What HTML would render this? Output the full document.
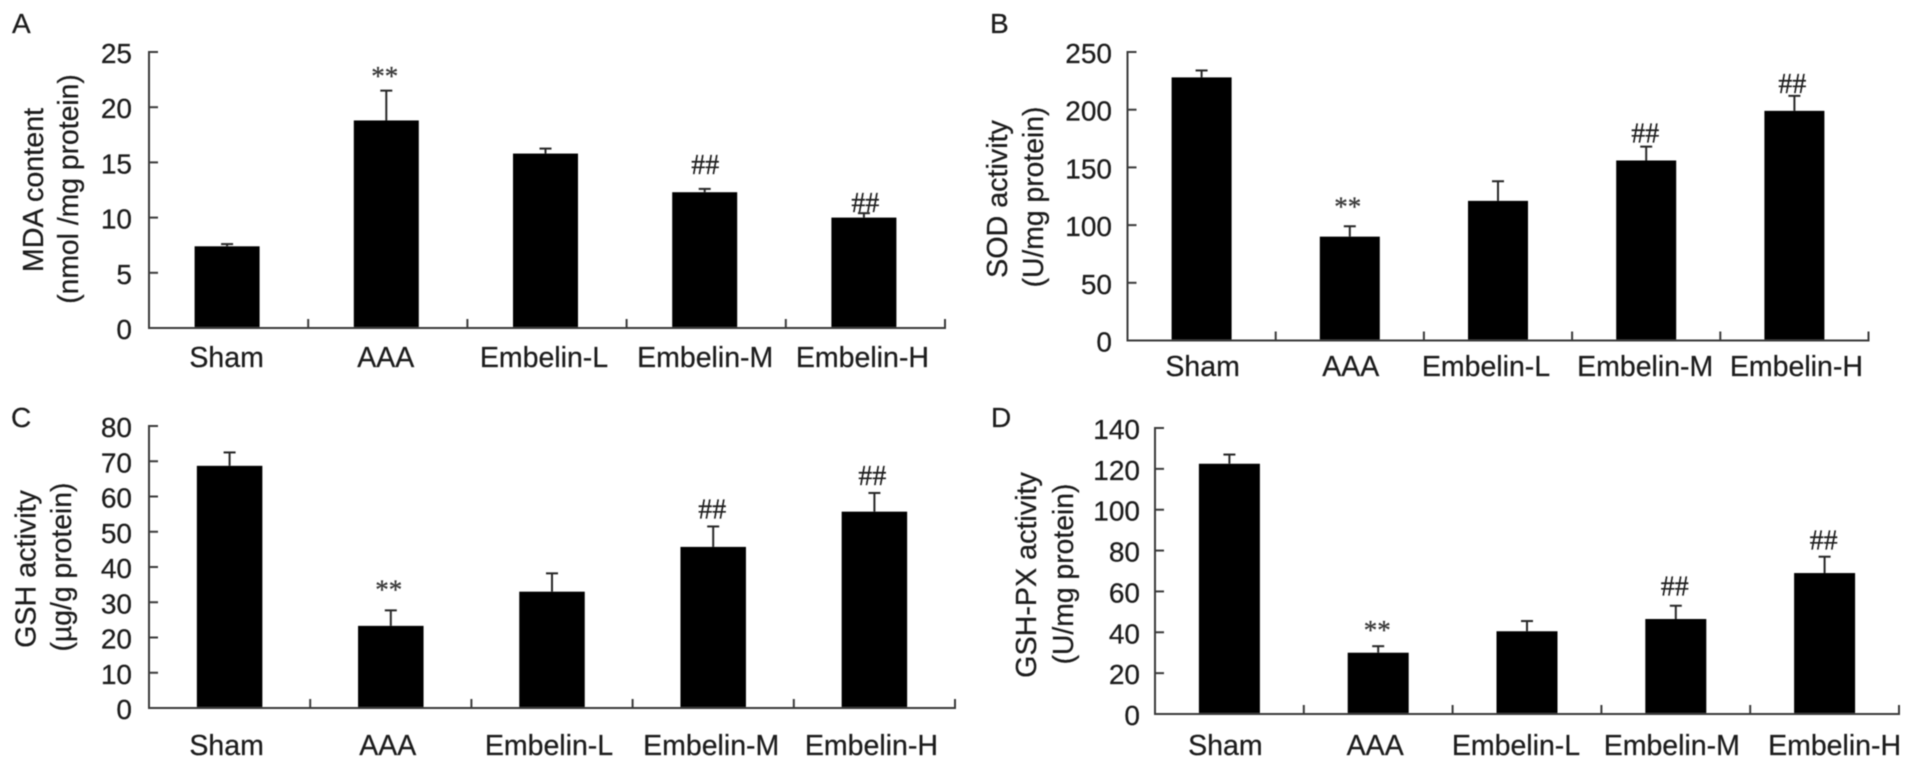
<!DOCTYPE html>
<html lang="en">
<head>
<meta charset="utf-8">
<title>Embelin oxidative stress bar charts</title>
<style>
  html, body { margin: 0; padding: 0; background: #fff; }
  #figure { display: block; width: 1913px; height: 768px; }
  text { font-family: "Liberation Sans", sans-serif; fill: #1c1c1c; stroke: #1c1c1c; stroke-width: 0.25px; }
  .mark { font-family: "Liberation Serif", serif; }
</style>
</head>
<body>
<svg id="figure" xmlns="http://www.w3.org/2000/svg" width="1913" height="768" viewBox="0 0 1913 768">
  <defs><filter id="soft" x="-2%" y="-2%" width="104%" height="104%"><feGaussianBlur stdDeviation="0.6"/></filter></defs>
  <g id="root" filter="url(#soft)"></g>
</svg>
<script>
const categories = ['Sham', 'AAA', 'Embelin-L', 'Embelin-M', 'Embelin-H'];
const significance = ['', '**', '', '##', '##'];

const mdaValues = [7.4, 18.8, 15.8, 12.3, 10.0];
const mdaErrors = [0.2, 2.7, 0.45, 0.3, 0.4];
const mdaTicks = [0, 5, 10, 15, 20, 25];

const sodValues = [228, 90, 121, 156, 199];
const sodErrors = [6, 9, 17, 12, 13];
const sodTicks = [0, 50, 100, 150, 200, 250];

const gshValues = [68.7, 23.3, 33.0, 45.7, 55.7];
const gshErrors = [3.8, 4.4, 5.2, 5.8, 5.3];
const gshTicks = [0, 10, 20, 30, 40, 50, 60, 70, 80];

const gpxValues = [122.5, 30, 40.5, 46.5, 69];
const gpxErrors = [4.5, 3.2, 5, 6.5, 8];
const gpxTicks = [0, 20, 40, 60, 80, 100, 120, 140];

const panels = [
  { id: 'a', letter: 'A', lx: 12, ly: 33, values: mdaValues, errors: mdaErrors, ticks: mdaTicks,
    left: 149, right: 945, top: 52, base: 328, barW: 65, barShift: -1.5, tickX: 132,
    title: 'MDA content', sub: '(nmol /mg protein)', t1x: 43, t1y: 190, t2x: 78, t2y: 189,
    labelY: 367, labelShift: [-2, -2, -3, -1, -3], markGap: [0, 18.5, 0, 24, 10], markShift: [0, -3, 0, -1, 0] },
  { id: 'b', letter: 'B', lx: 990, ly: 33, values: sodValues, errors: sodErrors, ticks: sodTicks,
    left: 1127.5, right: 1868.5, top: 52, base: 340.5, barW: 60, barShift: 0, tickX: 1112,
    title: 'SOD activity', sub: '(U/mg protein)', t1x: 1007, t1y: 199, t2x: 1043, t2y: 197,
    labelY: 376, labelShift: [1, 1, -12, -1, 2], markGap: [0, 24, 0, 13, 12], markShift: [0, -2, 0, -1, -2] },
  { id: 'c', letter: 'C', lx: 11, ly: 427, values: gshValues, errors: gshErrors, ticks: gshTicks,
    left: 149, right: 955, top: 426, base: 708, barW: 65.5, barShift: 0, tickX: 132,
    title: 'GSH activity', sub: '(\u00B5g/g protein)', t1x: 35.5, t1y: 569, t2x: 71, t2y: 567,
    labelY: 755, labelShift: [-3, -3, -3, -2, -3], markGap: [0, 25, 0, 17, 17], markShift: [0, -2, 0, -1, -2] },
  { id: 'd', letter: 'D', lx: 991, ly: 427, values: gpxValues, errors: gpxErrors, ticks: gpxTicks,
    left: 1155, right: 1899, top: 428, base: 714, barW: 61, barShift: 0, tickX: 1140,
    title: 'GSH-PX activity', sub: '(U/mg protein)', t1x: 1036, t1y: 575, t2x: 1073, t2y: 574,
    labelY: 755, labelShift: [-4, -3, -11, -4, 10], markGap: [0, 20, 0, 19, 16], markShift: [0, -1, 0, -1, -1] }
];

const SVG_NS = 'http://www.w3.org/2000/svg';
const AXIS = '#3a3a3a';

function make(parent, tag, props, content) {
  const node = document.createElementNS(SVG_NS, tag);
  Object.keys(props).forEach(function (k) { node.setAttribute(k, props[k]); });
  if (content !== undefined) node.textContent = content;
  parent.appendChild(node);
  return node;
}

function slug(s) { return s.toLowerCase().replace(/[^a-z0-9]+/g, '-'); }

const root = document.getElementById('root');

panels.forEach(function (p) {
  const yScale = function (v) {
    const max = p.ticks[p.ticks.length - 1];
    return p.base - (v / max) * (p.base - p.top);
  };
  const step = (p.right - p.left) / categories.length;
  const xScale = function (i) { return p.left + step * (i + 0.5); };

  const group = make(root, 'g', {});
  
  

  let el = make(group, 'text', { x: p.lx, y: p.ly, 'font-size': 28 }, p.letter);
  
  

  el = make(group, 'text', { transform: 'translate(' + p.t1x + ',' + p.t1y + ') rotate(-90)', 'text-anchor': 'middle', 'font-size': 28.7 }, p.title);
  
  

  el = make(group, 'text', { transform: 'translate(' + p.t2x + ',' + p.t2y + ') rotate(-90)', 'text-anchor': 'middle', 'font-size': 28.3 }, p.sub);
  
  

  p.ticks.forEach(function (t) {
    const y = yScale(t);
    let mark = make(group, 'line', { x1: p.left, x2: p.left + 9, y1: y, y2: y, stroke: AXIS, 'stroke-width': 2 });
    
    
    mark = make(group, 'text', { x: p.tickX, y: y + 11, 'text-anchor': 'end', 'font-size': 28 }, String(t));
    
    
  });

  categories.forEach(function (c, i) {
    const cx = xScale(i) + p.barShift;
    const name = p.id + '-' + slug(c);
    const top = yScale(p.values[i]);
    const errTop = yScale(p.values[i] + p.errors[i]);

    let mark = make(group, 'line', { x1: cx, x2: cx, y1: top, y2: errTop, stroke: '#262626', 'stroke-width': 2 });
    
    

    mark = make(group, 'line', { x1: cx - 6, x2: cx + 6, y1: errTop, y2: errTop, stroke: '#262626', 'stroke-width': 2 });
    
    

    mark = make(group, 'rect', { x: cx - p.barW / 2, y: top, width: p.barW, height: p.base - top, fill: '#000' });
    
    

    mark = make(group, 'line', { x1: p.left + step * (i + 1), x2: p.left + step * (i + 1), y1: p.base, y2: p.base - 9, stroke: AXIS, 'stroke-width': 2 });
    
    

    mark = make(group, 'text', { x: xScale(i) + p.labelShift[i], y: p.labelY, 'text-anchor': 'middle', 'font-size': 28.5 }, c);
    
    

    if (significance[i]) {
      const isStar = significance[i] === '**';
      const cy = errTop - p.markGap[i];
      mark = make(group, 'text', {
        class: 'mark', x: xScale(i) + p.markShift[i], y: cy + (isStar ? 13 : 9), 'text-anchor': 'middle',
        'font-size': isStar ? 27 : 28, style: 'fill:' + (isStar ? '#3c3c3c' : '#1c1c1c')
      }, significance[i]);
      
      
    }
  });

  el = make(group, 'line', { x1: p.left, x2: p.left, y1: p.top - 1, y2: p.base + 1, stroke: AXIS, 'stroke-width': 2 });
  
  

  el = make(group, 'line', { x1: p.left - 1, x2: p.right + 1, y1: p.base, y2: p.base, stroke: AXIS, 'stroke-width': 2 });
  
  
});
</script>
</body>
</html>
